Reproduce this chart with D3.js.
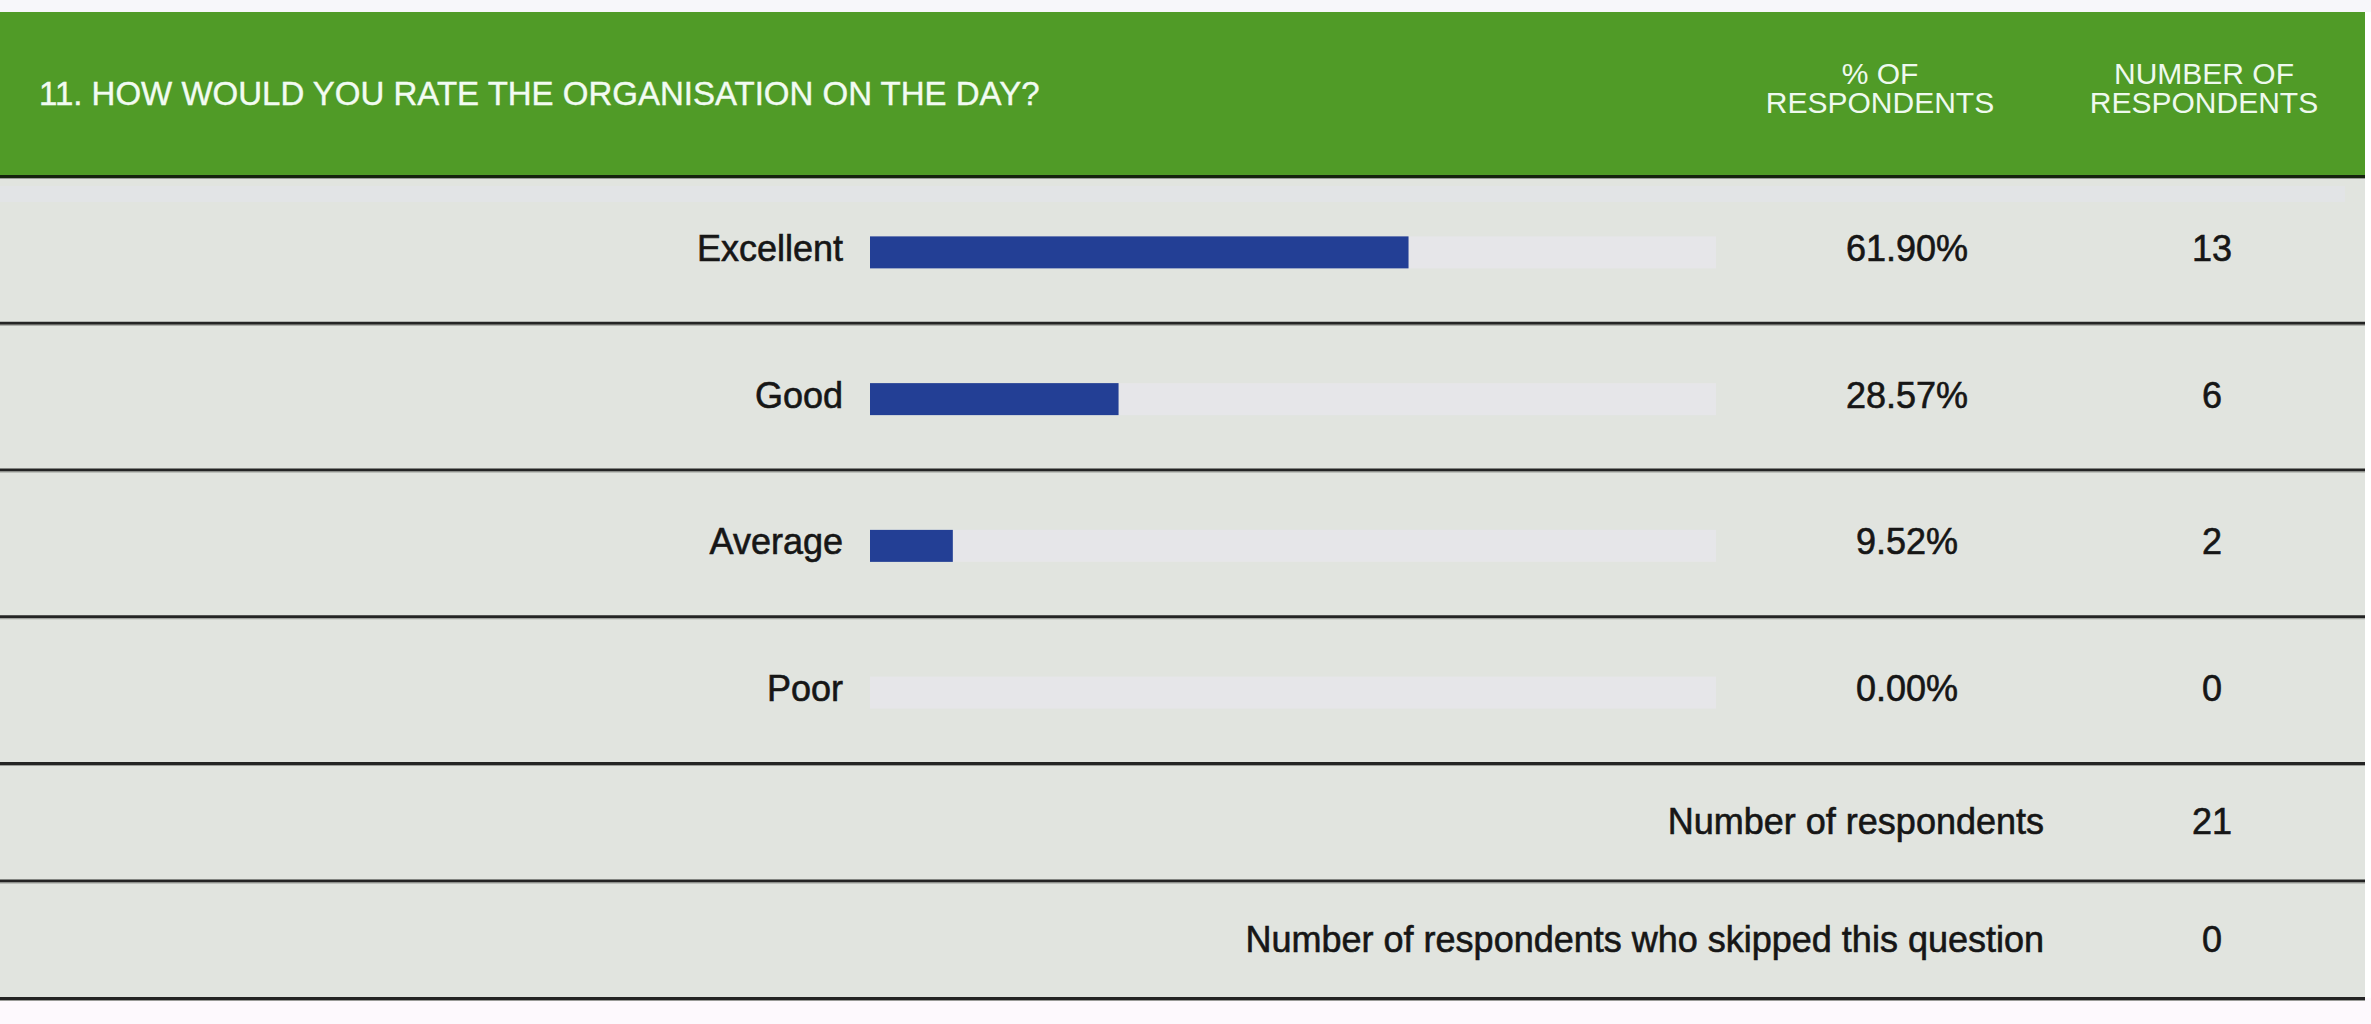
<!DOCTYPE html>
<html>
<head>
<meta charset="utf-8">
<script src="https://cdn.jsdelivr.net/npm/d3@7"></script>
<style>
    body { margin: 0; background: #ffffff; }
    text { font-family: "Liberation Sans", Arial, sans-serif; }
    .body-text { fill: #161616; stroke: #161616; stroke-width: 0.6px; }
</style>
</head>
<body>
<div id="chart"></div>
<script>
const title = "11. HOW WOULD YOU RATE THE ORGANISATION ON THE DAY?";
const columnHeaders = [["% OF", "RESPONDENTS"], ["NUMBER OF", "RESPONDENTS"]];
const categories = ["Excellent", "Good", "Average", "Poor"];
const percents = [61.90, 28.57, 9.52, 0.00];
const counts = [13, 6, 2, 0];
const summaryLabels = ["Number of respondents", "Number of respondents who skipped this question"];
const summaryValues = [21, 0];

let svgWidth = 2371,
    svgHeight = 1024;
let tableRight = 2365,
    headerTop = 12,
    headerBottom = 176,
    rowsBottom = 763,
    tableBottom = 998;
let labelX = 843,
    pctX = 1907,
    countX = 2212,
    summaryX = 2044,
    barHeight = 32;
let headX = [1880, 2204];

let svg = d3.select("#chart").append("svg")
    .attr("width", svgWidth)
    .attr("height", svgHeight);

let y = d3.scaleBand().domain(categories).range([headerBottom, rowsBottom]),
    ySum = d3.scaleBand().domain(summaryLabels).range([rowsBottom, tableBottom]),
    x = d3.scaleLinear().domain([0, 100]).range([870, 1740]);

//page background strips
svg.append("rect").attr("width", svgWidth).attr("height", headerTop).attr("fill", "#f7f7fa");
svg.append("rect").attr("y", tableBottom).attr("width", svgWidth).attr("height", svgHeight - tableBottom).attr("fill", "#fdf9fd");

//header
svg.append("rect")
    .attr("x", 0).attr("y", headerTop)
    .attr("width", tableRight).attr("height", headerBottom - headerTop)
    .attr("fill", "#509b27");

svg.append("text")
    .attr("x", 39).attr("y", (headerTop + headerBottom) / 2 - 1)
    .attr("dominant-baseline", "central")
    .attr("font-size", 33)
    .attr("fill", "#f2fbf2")
    .attr("stroke", "#f2fbf2")
    .attr("stroke-width", 0.4)
    .text(title);

svg.selectAll(".colhead")
    .data(columnHeaders)
    .enter().append("text")
    .attr("class", "colhead")
    .attr("text-anchor", "middle")
    .attr("font-size", 30)
    .attr("fill", "#eef9ee")
    .each(function (d, i) {
        d3.select(this).selectAll("tspan")
            .data(d)
            .enter().append("tspan")
            .attr("x", headX[i])
            .attr("y", (l, j) => 84 + j * 29)
            .text(l => l);
    });

//body background
svg.append("rect")
    .attr("x", 0).attr("y", headerBottom)
    .attr("width", tableRight).attr("height", tableBottom - headerBottom)
    .attr("fill", "#e1e4df");
svg.append("rect")
    .attr("x", 0).attr("y", headerBottom + 10)
    .attr("width", tableRight - 20).attr("height", 16)
    .attr("fill", "#e2e4e6");

//data rows
let rows = svg.selectAll(".row")
    .data(categories)
    .enter().append("g")
    .attr("class", "row")
    .attr("transform", d => `translate(0, ${y(d) + y.bandwidth() / 2})`);

rows.append("rect")
    .attr("x", x(0)).attr("y", -13)
    .attr("width", 1716 - x(0)).attr("height", barHeight)
    .attr("fill", "#e6e6e9");

rows.append("rect")
    .attr("x", x(0)).attr("y", -13)
    .attr("width", (d, i) => x(percents[i]) - x(0)).attr("height", barHeight)
    .attr("fill", "#233f95");

rows.append("text")
    .attr("class", "body-text")
    .attr("x", labelX).attr("y", -1)
    .attr("text-anchor", "end")
    .attr("dominant-baseline", "central")
    .attr("font-size", 36)
    .text(d => d);

rows.append("text")
    .attr("class", "body-text")
    .attr("x", pctX).attr("y", -1)
    .attr("text-anchor", "middle")
    .attr("dominant-baseline", "central")
    .attr("font-size", 36)
    .text((d, i) => percents[i].toFixed(2) + "%");

rows.append("text")
    .attr("class", "body-text")
    .attr("x", countX).attr("y", -1)
    .attr("text-anchor", "middle")
    .attr("dominant-baseline", "central")
    .attr("font-size", 36)
    .text((d, i) => counts[i]);

//summary rows
let sums = svg.selectAll(".summary")
    .data(summaryLabels)
    .enter().append("g")
    .attr("class", "summary")
    .attr("transform", d => `translate(0, ${ySum(d) + ySum.bandwidth() / 2})`);

sums.append("text")
    .attr("class", "body-text")
    .attr("x", summaryX).attr("y", 0)
    .attr("text-anchor", "end")
    .attr("dominant-baseline", "central")
    .attr("font-size", 36)
    .text(d => d);

sums.append("text")
    .attr("class", "body-text")
    .attr("x", countX).attr("y", 0)
    .attr("text-anchor", "middle")
    .attr("dominant-baseline", "central")
    .attr("font-size", 36)
    .text((d, i) => summaryValues[i]);

//separator lines
let lines = [headerBottom].concat(categories.map(d => y(d) + y.bandwidth()), summaryLabels.map(d => ySum(d) + ySum.bandwidth()));
svg.selectAll(".sep")
    .data(lines)
    .enter().append("rect")
    .attr("class", "sep")
    .attr("x", 0).attr("y", d => d - 1)
    .attr("width", tableRight).attr("height", 3)
    .attr("fill", (d, i) => i === 0 ? "#16230f" : "#242424");
svg.selectAll(".sep2")
    .data(lines)
    .enter().append("rect")
    .attr("class", "sep2")
    .attr("x", 0).attr("y", d => d + 2)
    .attr("width", tableRight).attr("height", 1)
    .attr("fill", "#9a9c98");
</script>
</body>
</html>
